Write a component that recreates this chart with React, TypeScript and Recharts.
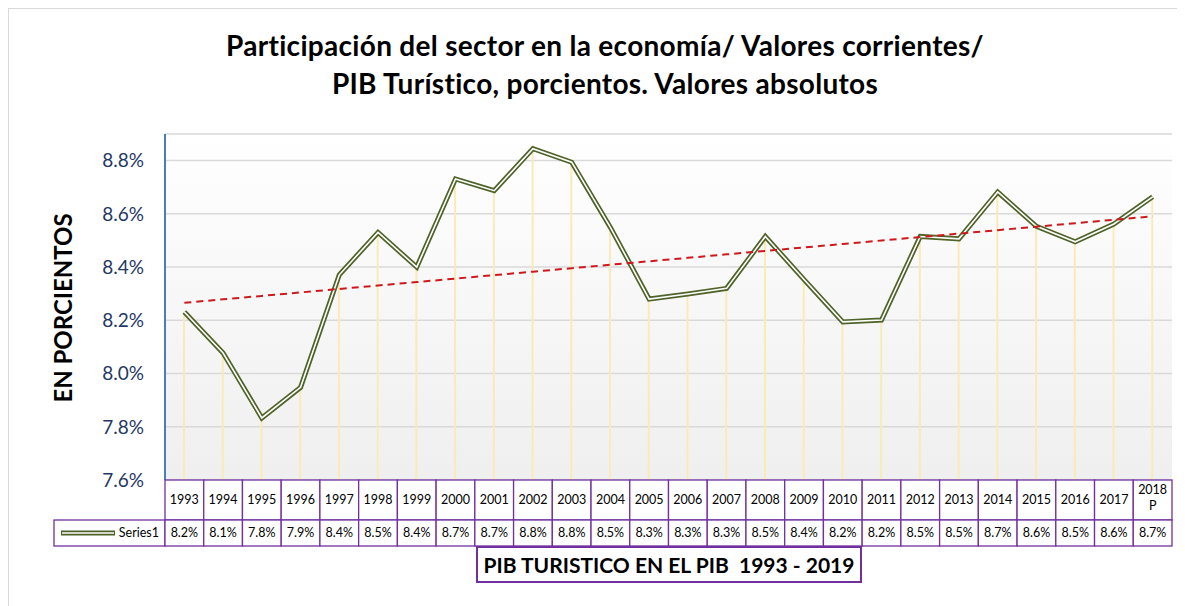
import React from 'react';
import { ComposedChart, Line, Bar, XAxis, YAxis, CartesianGrid } from 'recharts';

const years = ['1993', '1994', '1995', '1996', '1997', '1998', '1999', '2000', '2001', '2002', '2003', '2004', '2005', '2006', '2007', '2008', '2009', '2010', '2011', '2012', '2013', '2014', '2015', '2016', '2017', '2018 P'];
const values = [8.231, 8.077, 7.833, 7.948, 8.371, 8.53, 8.4, 8.731, 8.687, 8.845, 8.794, 8.549, 8.28, 8.299, 8.32, 8.515, 8.353, 8.194, 8.201, 8.515, 8.506, 8.682, 8.553, 8.495, 8.562, 8.664];
const yTicks = [7.6, 7.8, 8.0, 8.2, 8.4, 8.6, 8.8];
const seriesName = 'Series1';
const titleLines = ['Participación del sector en la economía/ Valores corrientes/', 'PIB Turístico, porcientos. Valores absolutos'];
const yAxisTitle = 'EN PORCIENTOS';
const xAxisTitle = 'PIB TURISTICO EN EL PIB  1993 - 2019';

// linear trendline (least squares) derived from the series
const n = values.length;
const mx = (n - 1) / 2;
const my = values.reduce((s, v) => s + v, 0) / n;
let sxy = 0;
let sxx = 0;
values.forEach((v, i) => {
  sxy += (i - mx) * (v - my);
  sxx += (i - mx) * (i - mx);
});
const slope = sxy / sxx;
const intercept = my - slope * mx;

const data = years.map((y, i) => ({ year: y, value: values[i], trend: intercept + slope * i }));

const W = 1177;
const H = 598;
const M = { top: 126, right: 13, bottom: 60, left: 0 };
const Y_W = 157;
const PLOT_W = W - M.left - M.right - Y_W;
const CELL_W = PLOT_W / years.length;
const ROW1_H = 40;
const ROW2_H = 26;
const LEGEND_W = 111;
const PURPLE = '#7030a0';
const FONT = 'Lato, "Open Sans", sans-serif';
const TFS = 12.5;

const YearTick = (props: any) => {
  const { x, y, payload } = props;
  const label: string = String(payload.value);
  const parts = label.split(' ');
  return (
    <g>
      <rect x={x - CELL_W / 2} y={y} width={CELL_W} height={ROW1_H} fill="#ffffff" stroke={PURPLE} strokeWidth={1.3} />
      {parts.length === 1 ? (
        <text x={x} y={y + ROW1_H / 2 + 4} textAnchor="middle" fontSize={TFS} fill="#000" fontFamily={FONT}>{label}</text>
      ) : (
        <text textAnchor="middle" fontSize={TFS} fill="#000" fontFamily={FONT}>
          <tspan x={x} y={y + 14}>{parts[0]}</tspan>
          <tspan x={x} y={y + 30}>{parts[1]}</tspan>
        </text>
      )}
    </g>
  );
};

const ValueTick = (props: any) => {
  const { x, y, payload } = props;
  const idx = payload.index;
  const v = values[idx];
  return (
    <g>
      {idx === 0 && (
        <g>
          <rect x={x - CELL_W / 2 - LEGEND_W} y={y} width={LEGEND_W} height={ROW2_H} fill="#ffffff" stroke={PURPLE} strokeWidth={1.3} />
          <line x1={x - CELL_W / 2 - LEGEND_W + 7} x2={x - CELL_W / 2 - LEGEND_W + 61} y1={y + ROW2_H / 2} y2={y + ROW2_H / 2} stroke="#4f6228" strokeWidth={5} />
          <line x1={x - CELL_W / 2 - LEGEND_W + 8} x2={x - CELL_W / 2 - LEGEND_W + 60} y1={y + ROW2_H / 2} y2={y + ROW2_H / 2} stroke="#ffffff" strokeWidth={1.6} />
          <text x={x - CELL_W / 2 - 6} y={y + ROW2_H / 2 + 4} textAnchor="end" fontSize={TFS} fill="#000" fontFamily={FONT}>{seriesName}</text>
        </g>
      )}
      <rect x={x - CELL_W / 2} y={y} width={CELL_W} height={ROW2_H} fill="#ffffff" stroke={PURPLE} strokeWidth={1.3} />
      <text x={x} y={y + ROW2_H / 2 + 4} textAnchor="middle" fontSize={TFS} fill="#000" fontFamily={FONT}>{v.toFixed(1) + '%'}</text>
    </g>
  );
};

export default function App() {
  return (
    <div style={{ position: 'relative', width: W, height: H, fontFamily: FONT, background: '#fff' }}>
      <div style={{ position: 'absolute', left: 0, top: 0, width: W, height: H, borderLeft: '1.5px solid #d9d9d9', borderTop: '1.5px solid #d9d9d9', boxSizing: 'border-box', pointerEvents: 'none' }} />
      <ComposedChart width={W} height={H} data={data} margin={M}>
        <defs>
          <linearGradient id="plotBg" x1="0" y1="0" x2="0" y2="1">
            <stop offset="0%" stopColor="#ffffff" />
            <stop offset="100%" stopColor="#efefef" />
          </linearGradient>
        </defs>
        <CartesianGrid vertical={false} stroke="#d9d9d9" strokeWidth={1.5} fill="url(#plotBg)" />
        <XAxis dataKey="year" scale="band" interval={0} axisLine={false} tickLine={false} tickSize={0} tickMargin={0} height={ROW1_H} tick={(p: any) => <YearTick {...p} />} />
        <XAxis xAxisId="vals" dataKey="year" scale="band" interval={0} axisLine={false} tickLine={false} tickSize={0} tickMargin={0} height={ROW2_H} tick={(p: any) => <ValueTick {...p} />} />
        <YAxis
          domain={[7.6, 8.9]}
          ticks={yTicks}
          width={Y_W}
          allowDataOverflow
          tickFormatter={(v: number) => v.toFixed(1) + '%'}
          tick={{ fill: '#1f3864', fontSize: 19, fontFamily: FONT }}
          tickLine={false}
          tickSize={0}
          tickMargin={21}
          axisLine={{ stroke: '#4a7ebb', strokeWidth: 2 }}
        />
        <Bar dataKey="value" barSize={2} fill="#fbeab8" isAnimationActive={false} />
        <Line type="linear" dataKey="value" stroke="#4f6228" strokeWidth={5} dot={false} isAnimationActive={false} />
        <Line type="linear" dataKey="value" stroke="#ffffff" strokeWidth={1.6} dot={false} isAnimationActive={false} />
        <Line type="linear" dataKey="trend" stroke="#d0181c" strokeWidth={2} strokeDasharray="7 5" dot={false} isAnimationActive={false} />
      </ComposedChart>
      <div style={{ position: 'absolute', left: 597, top: 18, transform: 'translateX(-50%)', whiteSpace: 'nowrap', textAlign: 'center', fontWeight: 700, fontSize: 28, letterSpacing: 0.3, lineHeight: '38px', color: '#000' }}>
        {titleLines.map((t, i) => (
          <div key={i}>{t}</div>
        ))}
      </div>
      <div style={{ position: 'absolute', left: 54, top: 300, transform: 'translate(-50%, -50%) rotate(-90deg)', whiteSpace: 'nowrap', fontWeight: 700, fontSize: 24, color: '#000' }}>
        {yAxisTitle}
      </div>
      <div style={{ position: 'absolute', left: 468, top: 538, width: 386, height: 37, boxSizing: 'border-box', border: `2px solid ${PURPLE}`, display: 'flex', alignItems: 'center', justifyContent: 'center', fontWeight: 700, fontSize: 21, color: '#000', whiteSpace: 'pre' }}>
        {xAxisTitle}
      </div>
    </div>
  );
}
